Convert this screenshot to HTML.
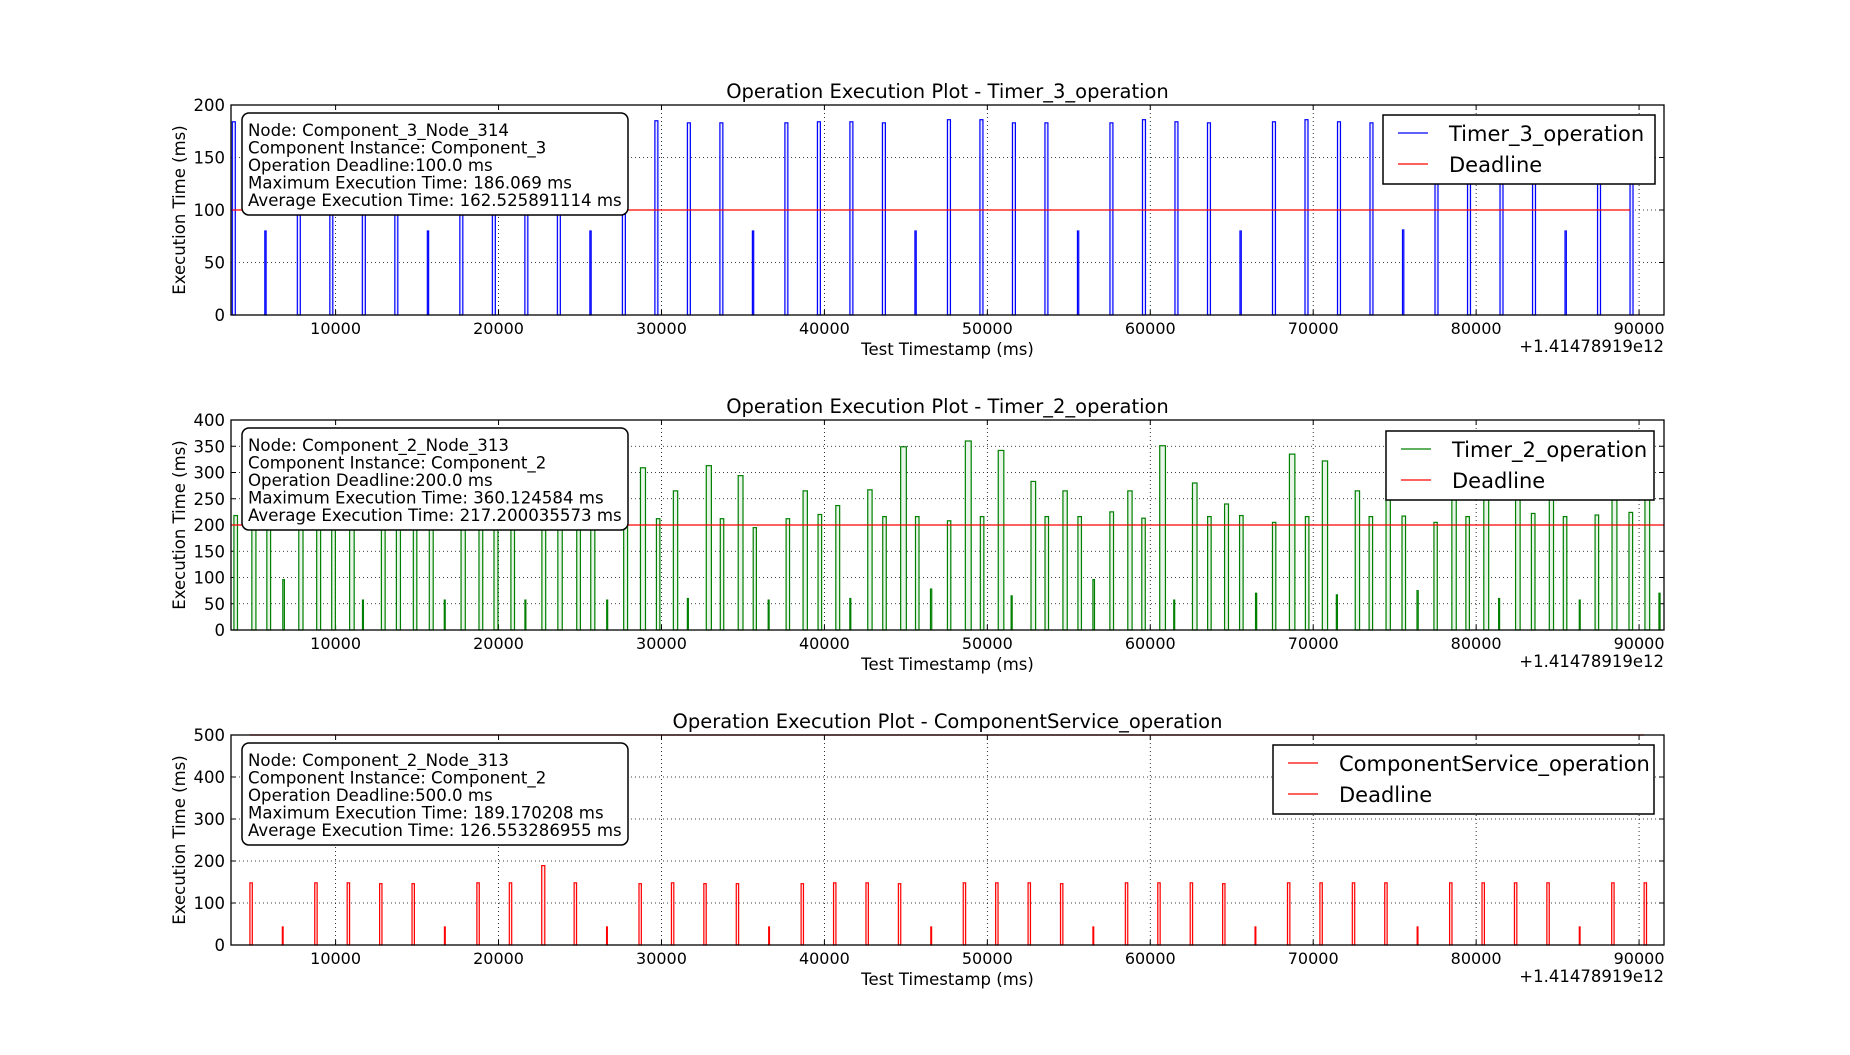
<!DOCTYPE html>
<html><head><meta charset="utf-8"><style>
body{margin:0;background:#fff;width:1850px;height:1050px;overflow:hidden}
svg text{font-family:"DejaVu Sans","Liberation Sans",sans-serif;fill:#000}
</style></head><body>
<svg id="fig" width="1850" height="1050" xmlns="http://www.w3.org/2000/svg"></svg>
<script>
// ---- data ----
const xDomain = [3580, 91530];
const xTicks = [10000, 20000, 30000, 40000, 50000, 60000, 70000, 80000, 90000];
const timer3Times = [3660,5655,7650,9645,11640,13635,15630,17625,19620,21615,23610,25605,27600,29595,31590,33585,35580,37575,39570,41565,43560,45555,47550,49545,51540,53535,55530,57525,59520,61515,63510,65505,67500,69495,71490,73485,75480,77475,79470,81465,83460,85455,87450,89445];
const timer3Values = [184,80,184,184,184,184,80,184,184,184,184,80,184,185,183,183,80,183,184,184,183,80,186,186,183,183,80,183,186,184,183,80,184,186,184,183,81,184,184,184,184,80,184,184];
const timer2Times = [3760,4860,5780,6760,7740,8840,9760,10860,11650,12810,13730,14770,15750,16670,17700,18800,19720,20760,21620,22660,23640,24800,25660,26640,27680,28710,29690,30730,31590,32750,33610,34710,35630,36550,37650,38690,39610,40700,41560,42660,43580,44680,45590,46510,47550,48650,49570,50670,51460,52680,53540,54640,55560,56480,57520,58620,59480,60580,61440,62590,63520,64560,65480,66460,67500,68540,69520,70560,71420,72580,73430,74470,75450,76370,77410,78510,79370,80470,81380,82420,83390,84490,85350,86330,87300,88340,89380,90360,91220];
const timer2Values = [218,250,230,96,260,240,225,280,57,230,250,215,240,57,260,230,245,220,57,235,270,225,250,57,240,309,212,265,60,313,212,294,195,57,212,265,220,237,60,267,216,349,216,78,208,360,216,342,65,283,216,265,216,96,225,265,213,351,57,280,216,240,218,70,205,335,216,322,67,265,216,265,217,75,205,270,216,300,60,280,222,260,216,57,219,300,224,290,70];
const csTimes = [4740,6730,8720,10710,12700,14690,16680,18670,20660,22650,24640,26630,28620,30610,32600,34590,36580,38570,40560,42550,44540,46530,48520,50510,52500,54490,56480,58470,60460,62450,64440,66430,68420,70410,72400,74390,76380,78370,80360,82350,84340,86330,88320,90310];
const csValues = [148,43,148,148,146,146,43,148,148,189,148,43,146,148,146,146,43,146,148,148,146,43,148,148,148,146,43,148,148,148,146,43,148,148,148,148,43,148,148,148,148,43,148,148];
const yTicks1 = [0,50,100,150,200];
const yTicks2 = [0,50,100,150,200,250,300,350,400];
const yTicks3 = [0,100,200,300,400,500];
const deadlines = [100, 200, 500];
const titles = ["Operation Execution Plot - Timer_3_operation","Operation Execution Plot - Timer_2_operation","Operation Execution Plot - ComponentService_operation"];
const seriesNames = ["Timer_3_operation","Timer_2_operation","ComponentService_operation"];
const infoLines = [
 ["Node: Component_3_Node_314","Component Instance: Component_3","Operation Deadline:100.0 ms","Maximum Execution Time: 186.069 ms","Average Execution Time: 162.525891114 ms"],
 ["Node: Component_2_Node_313","Component Instance: Component_2","Operation Deadline:200.0 ms","Maximum Execution Time: 360.124584 ms","Average Execution Time: 217.200035573 ms"],
 ["Node: Component_2_Node_313","Component Instance: Component_2","Operation Deadline:500.0 ms","Maximum Execution Time: 189.170208 ms","Average Execution Time: 126.553286955 ms"]
];

const NS="http://www.w3.org/2000/svg";
const svg=document.getElementById('fig');
function mk(tag,attrs,parent,text){const e=document.createElementNS(NS,tag);for(const k in attrs)e.setAttribute(k,attrs[k]);if(text!==undefined)e.textContent=text;(parent||svg).appendChild(e);return e;}

const L=231,R=1664;
const panels=[
 {top:105,times:timer3Times,vals:timer3Values,yt:yTicks1,ymax:200,color:'#0000ff',fill:'#e8e8ff',dl:deadlines[0],dlFull:false,leg:{x:1383,y:115,w:272},key:'timer3'},
 {top:420,times:timer2Times,vals:timer2Values,yt:yTicks2,ymax:400,color:'#008000',fill:'#e8f5e8',dl:deadlines[1],dlFull:true,leg:{x:1386,y:431,w:268},key:'timer2'},
 {top:735,times:csTimes,vals:csValues,yt:yTicks3,ymax:500,color:'#ff0000',fill:'#ffe8e8',dl:deadlines[2],dlFull:false,leg:{x:1273,y:745,w:381},key:'componentservice'}
];
const H=210;
panels.forEach((p,i)=>{
  const g=mk('g',{});
  
  
  const X=t=>L+(t-xDomain[0])/(xDomain[1]-xDomain[0])*(R-L);
  const Y=v=>p.top+H-v/p.ymax*H;
  const pxPerMs=(R-L)/(xDomain[1]-xDomain[0]);
  xTicks.forEach(t=>{const x=X(t);
    const gl=mk('line',{x1:x,x2:x,y1:p.top,y2:p.top+H,stroke:'#000','stroke-width':0.8,'stroke-dasharray':'1,3'},g);
    
    mk('line',{x1:x,x2:x,y1:p.top+H,y2:p.top+H-5,stroke:'#000'},g);
    mk('line',{x1:x,x2:x,y1:p.top,y2:p.top+5,stroke:'#000'},g);
    const tl=mk('text',{x:x,y:p.top+H+19,'font-size':16,'text-anchor':'middle'},g,String(t));
    
  });
  p.yt.forEach(v=>{const y=Y(v);
    if(v>0&&v<p.ymax){const gl=mk('line',{x1:L,x2:R,y1:y,y2:y,stroke:'#000','stroke-width':0.8,'stroke-dasharray':'1,3'},g);
      }
    mk('line',{x1:L,x2:L+5,y1:y,y2:y,stroke:'#000'},g);
    mk('line',{x1:R,x2:R-5,y1:y,y2:y,stroke:'#000'},g);
    const tl=mk('text',{x:L-6,y:y+6,'font-size':16.5,'text-anchor':'end'},g,String(v));
    
  });
  p.times.forEach((t,k)=>{const v=p.vals[k];
    const b=mk('rect',{x:X(t),y:Y(v),width:Math.max(v*pxPerMs,0.8),height:v/p.ymax*H,fill:p.fill,stroke:p.color,'stroke-width':1.2},g);
    
    
  });
  const dx1=p.dlFull?L:X(p.times[0]), dx2=p.dlFull?R:X(p.times[p.times.length-1]);
  const dl=mk('line',{x1:dx1,x2:dx2,y1:Y(p.dl),y2:Y(p.dl),stroke:'#ff0000','stroke-width':1.3},g);
  
  const fr=mk('rect',{x:L,y:p.top,width:R-L,height:H,fill:'none',stroke:'#000','stroke-width':1.3},g);
  
  const ti=mk('text',{x:(L+R)/2,y:p.top-7,'font-size':19.5,'text-anchor':'middle'},g,titles[i]);
  
  const xl=mk('text',{x:(L+R)/2,y:p.top+H+40,'font-size':16.5,'text-anchor':'middle'},g,'Test Timestamp (ms)');
  
  const off=mk('text',{x:R,y:p.top+H+37,'font-size':16.5,'text-anchor':'end'},g,'+1.41478919e12');
  
  const yl=mk('text',{x:0,y:0,'font-size':16.5,'text-anchor':'middle',transform:`translate(185,${p.top+H/2}) rotate(-90)`},g,'Execution Time (ms)');
  
  const ib=mk('rect',{x:242,y:p.top+8,width:386,height:102,rx:7,ry:7,fill:'#fff',stroke:'#000','stroke-width':1.5},g);
  
  infoLines[i].forEach((s,j)=>{const t=mk('text',{x:248,y:p.top+31+j*17.5,'font-size':16.6,textLength:null},g,s);
    t.removeAttribute('textLength');
    });
  const lg=p.leg;
  const lb=mk('rect',{x:lg.x,y:lg.y,width:lg.w,height:69,fill:'#fff',stroke:'#000','stroke-width':1.5},g);
  
  [[seriesNames[i],p.color],['Deadline','#ff0000']].forEach((e,j)=>{
    const yy=lg.y+18+j*31;
    mk('line',{x1:lg.x+15,x2:lg.x+45,y1:yy,y2:yy,stroke:e[1],'stroke-width':1.3},g);
    const t=mk('text',{x:lg.x+66,y:yy+8,'font-size':21},g,e[0]);
    
  });
});
</script>
</body></html>
